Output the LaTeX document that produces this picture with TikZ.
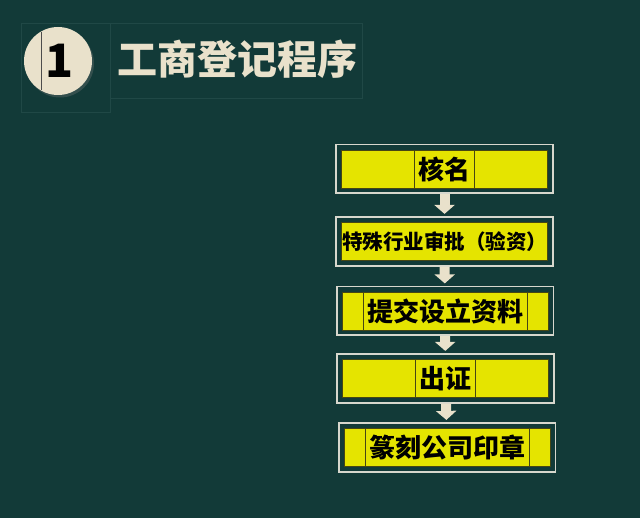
\documentclass[tikz,border=0pt]{standalone}
\usepackage{fontspec}
\newfontfamily\cjk{Noto Sans CJK SC}
\usetikzlibrary{positioning,fit,arrows.meta,shadows}
\definecolor{bgteal}{RGB}{18,58,56}
\definecolor{faintline}{RGB}{32,72,70}
\definecolor{cream}{RGB}{233,225,203}
\definecolor{stepyellow}{RGB}{229,228,0}
\definecolor{framegray}{RGB}{215,215,205}
\definecolor{celldark}{RGB}{70,70,20}

\begin{document}
\begin{tikzpicture}[x=1pt,y=-1pt,
	stepbox/.style={fill=stepyellow,draw=celldark,line width=0.6pt,minimum width=206pt,minimum height=38pt,inner sep=0pt,
		font=\cjk\bfseries\fontsize{26pt}{26pt}\selectfont},
	framebox/.style={draw=framegray,line width=1.6pt,inner sep=5pt},
	cellline/.style={draw=celldark,line width=0.6pt},
	flowarrow/.style={cream,line width=10pt,-{Triangle[width=20pt,length=9pt]},shorten >=2.5pt}]
	\fill[bgteal] (0,0) rectangle (640,518);
	\useasboundingbox (0,0) rectangle (640,518);
	% heading
	\draw[faintline,line width=0.8pt] (21,23) rectangle (110,112);
	\draw[faintline,line width=0.8pt] (110,23) rectangle (362,98);
	\node[circle,fill=cream,minimum size=68pt,inner sep=0pt,drop shadow={shadow xshift=2pt,shadow yshift=-2.5pt,opacity=0.3}] (num) at (58,61)
		{\fontsize{46pt}{46pt}\cjk\bfseries\hspace{3pt}1};
	\draw[black!70,line width=0.6pt] (41,31.6) -- (41,90.4);
	\node[text=cream,font=\cjk\bfseries\fontsize{40pt}{40pt}\selectfont] (title) at (237.5,59) {工商登记程序};
	% steps
	\node[stepbox] (k1) at (444.5,169) {核名};
	\node[stepbox,font=\cjk\bfseries\fontsize{20.5pt}{20.5pt}\selectfont] (k2) at (444.5,241.5) {特殊行业审批（验资）};
	\node[stepbox] (k3) at (445,311) {提交设立资料};
	\node[stepbox] (k4) at (445.5,378.5) {出证};
	\node[stepbox] (k5) at (447,447.5) {篆刻公司印章};
	\foreach \k/\d in {k1/30,k3/82,k4/30,k5/82}{
		\draw[cellline] ([xshift=-\d pt]\k.north) -- ([xshift=-\d pt]\k.south);
		\draw[cellline] ([xshift=\d pt]\k.north) -- ([xshift=\d pt]\k.south);
	}
	\foreach \i in {1,...,5}
		\node[framebox,fit=(k\i)] (f\i) {};
	\foreach \i/\j in {1/2,2/3,3/4,4/5}
		\draw[flowarrow] (f\i) -- (f\j);
\end{tikzpicture}
\end{document}
